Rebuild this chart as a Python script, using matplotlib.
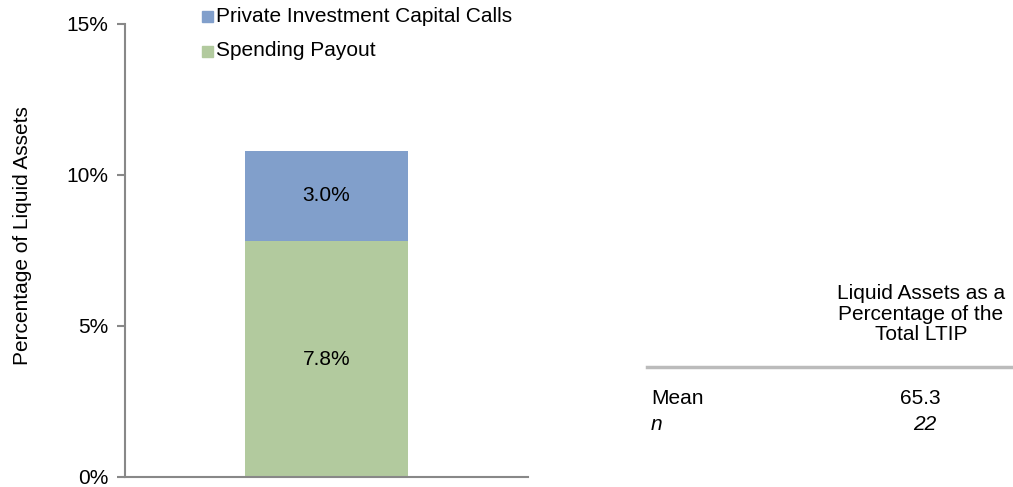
import matplotlib.pyplot as plt
from matplotlib.patches import Rectangle

plt.rcParams['font.family'] = ['Liberation Sans', 'DejaVu Sans']

# stacked bar values, percent of liquid assets
spending_payout = [7.8]
capital_calls = [3.0]
series_names = ['Private Investment Capital Calls', 'Spending Payout']
yticks = [0, 5, 10, 15]

# side table
table_header = 'Liquid Assets as a\nPercentage of the\nTotal LTIP'
row_labels = ['Mean', 'n']
row_values = ['65.3', '22']

blue = '#819FCB'
green = '#B2CA9E'
grey = '#888888'
fs = 15

fig = plt.figure(figsize=(10.13, 4.87), dpi=100)
ax = fig.add_axes([125 / 1013, 10 / 487, (528 - 125) / 1013, (477 - 10) / 487])

x = [0]
ax.bar(x, spending_payout, width=0.403, color=green, zorder=2)
ax.bar(x, capital_calls, bottom=spending_payout, width=0.403, color=blue, zorder=2)

for xi, s, c in zip(x, spending_payout, capital_calls):
    ax.text(xi, s / 2, '%.1f%%' % s, ha='center', va='center', fontsize=fs)
    ax.text(xi, s + c / 2, '%.1f%%' % c, ha='center', va='center', fontsize=fs)

ax.set_xlim(-0.5, 0.5)
ax.set_ylim(0, 15.45)
ax.set_yticks(yticks)
ax.set_yticklabels(['%d%%' % t for t in yticks], fontsize=fs)
ax.set_xticks([])
ax.tick_params(axis='y', length=6, color=grey, width=1.5, pad=6)
for side in ['top', 'right']:
    ax.spines[side].set_visible(False)
for side in ['left', 'bottom']:
    ax.spines[side].set_color(grey)
    ax.spines[side].set_linewidth(1.5)
ax.spines['left'].set_bounds(0, 15)
ax.set_ylabel('Percentage of Liquid Assets', fontsize=fs)
ax.yaxis.set_label_coords(-93 / 403, 0.516)

# legend drawn by hand in figure coords
for i, (name, col) in enumerate(zip(series_names, [blue, green])):
    yy = 1 - (16 + 35 * i) / 487
    fig.patches.append(Rectangle((202 / 1013, yy - 5.5 / 487), 11 / 1013, 11 / 487,
                                 color=col, transform=fig.transFigure))
    fig.text(216 / 1013, yy, name, fontsize=fs, va='center', ha='left')

# side table
fig.text(921 / 1013, 1 - 314 / 487, table_header, fontsize=fs, ha='center',
         va='center', linespacing=1.1)
fig.add_artist(plt.Line2D([647 / 1013, 1.0], [1 - 367 / 487, 1 - 367 / 487],
                          color='#BBBBBB', lw=2.5, transform=fig.transFigure))
fig.text(651 / 1013, 1 - 398 / 487, row_labels[0], fontsize=fs, va='center')
fig.text(651 / 1013, 1 - 425 / 487, row_labels[1], fontsize=fs, va='center', style='italic')
fig.text(920 / 1013, 1 - 398 / 487, row_values[0], fontsize=fs, va='center', ha='center')
fig.text(925 / 1013, 1 - 425 / 487, row_values[1], fontsize=fs, va='center', ha='center',
         style='italic')

fig.savefig('out.png', dpi=100)
